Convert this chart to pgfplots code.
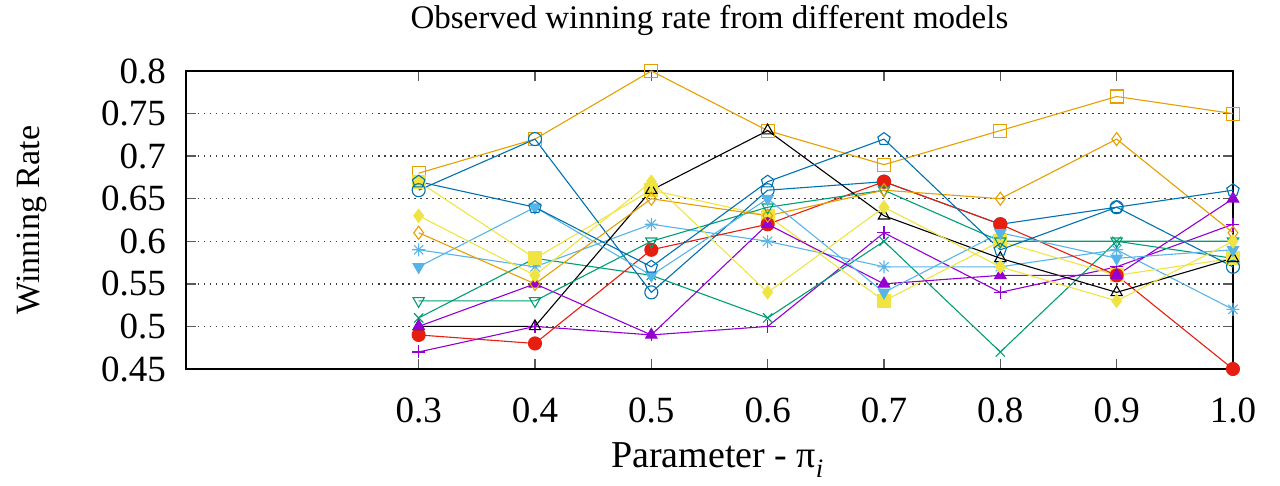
\documentclass[border=0pt]{standalone}
\usepackage{pgfplots}
\usepackage{pgfplotstable}
\pgfplotsset{compat=1.18}
\usepackage{fontspec}
\setmainfont{Liberation Serif}

% gnuplot default line colours
\definecolor{gpPurple}{HTML}{9400D3}
\definecolor{gpGreen}{HTML}{009E73}
\definecolor{gpSky}{HTML}{56B4E9}
\definecolor{gpOrange}{HTML}{E69F00}
\definecolor{gpYellow}{HTML}{F0E442}
\definecolor{gpBlue}{HTML}{0072B2}
\definecolor{gpRed}{HTML}{E51E10}

% eight-armed star (plus and cross)
\pgfdeclareplotmark{gpstar}{%
  \pgfpathmoveto{\pgfqpoint{-\pgfplotmarksize}{0pt}}%
  \pgfpathlineto{\pgfqpoint{\pgfplotmarksize}{0pt}}%
  \pgfpathmoveto{\pgfqpoint{0pt}{-\pgfplotmarksize}}%
  \pgfpathlineto{\pgfqpoint{0pt}{\pgfplotmarksize}}%
  \pgfpathmoveto{\pgfpointpolar{45}{\pgfplotmarksize}}%
  \pgfpathlineto{\pgfpointpolar{225}{\pgfplotmarksize}}%
  \pgfpathmoveto{\pgfpointpolar{135}{\pgfplotmarksize}}%
  \pgfpathlineto{\pgfpointpolar{315}{\pgfplotmarksize}}%
  \pgfusepathqstroke
}

\pgfplotstableread{
x    s1   s2   s3   s4   s5   s6   s7   s8   s9   s10  s11  s12  s13  s14
0.3  0.47 0.51 0.59 0.68 0.67 0.66 0.49 0.50 0.50 0.53 0.57 0.61 0.63 0.67
0.4  0.50 0.58 0.57 0.72 0.58 0.72 0.48 0.50 0.55 0.53 0.64 0.55 0.56 0.64
0.5  0.49 0.56 0.62 0.80 0.66 0.54 0.59 0.66 0.49 0.60 0.56 0.65 0.67 0.57
0.6  0.50 0.51 0.60 0.73 0.63 0.66 0.62 0.73 0.62 0.64 0.65 0.63 0.54 0.67
0.7  0.61 0.60 0.57 0.69 0.53 0.67 0.67 0.63 0.55 0.66 0.54 0.66 0.64 0.72
0.8  0.54 0.47 0.57 0.73 0.60 0.62 0.62 0.58 0.56 0.60 0.61 0.65 0.57 0.59
0.9  0.57 0.60 0.59 0.77 0.56 0.64 0.56 0.54 0.56 0.60 0.58 0.72 0.53 0.64
1.0  0.62 0.58 0.52 0.75 0.58 0.57 0.45 0.58 0.65 0.60 0.59 0.61 0.60 0.66
}\winrate

\pgfplotsset{
  gp/.style={line width=1.1pt, mark size=6.5pt, mark options={solid, line width=1.1pt}},
  gpdown/.style={gp, mark options={solid, line width=1.1pt, rotate=180}},
}

\begin{document}
\begin{tikzpicture}
\path[use as bounding box] (-186pt,-117pt) rectangle (1094pt,369pt);
\begin{axis}[
  scale only axis,
  width=1047pt, height=298pt,
  xmin=0.1, xmax=1.0, ymin=0.45, ymax=0.8,
  clip=false,
  xtick={0.3,0.4,0.5,0.6,0.7,0.8,0.9,1.0},
  xticklabels={0.3,0.4,0.5,0.6,0.7,0.8,0.9,1.0},
  ytick={0.45,0.5,0.55,0.6,0.65,0.7,0.75,0.8},
  yticklabels={0.45,0.5,0.55,0.6,0.65,0.7,0.75,0.8},
  tick align=inside,
  major tick length=10pt,
  tick style={line width=1.5pt, color=black!65},
  axis line style={line width=2.5pt, black},
  ymajorgrids,
  grid style={line width=1.5pt, black!75, dash pattern=on 1.5pt off 4.5pt},
  ticklabel style={font=\fontsize{37}{44}\selectfont},
  yticklabel style={anchor=east, inner sep=0pt, xshift=-20pt},
  xticklabel style={anchor=north, inner sep=0pt, yshift=-29pt},
  title={Observed winning rate from different models},
  title style={font=\fontsize{33}{38}\selectfont, at={(axis description cs:0.5,1)}, anchor=base, yshift=36pt},
  xlabel={Parameter - π\textsubscript{\textit{i}}},
  xlabel style={font=\fontsize{38}{45}\selectfont, at={(axis description cs:0.5,0)}, anchor=base, yshift=-99pt, xshift=8pt},
  ylabel={Winning Rate},
  ylabel style={font=\fontsize{34}{40}\selectfont, at={(axis description cs:-0.1404,0.5)}, anchor=base},
]
\addplot[gp, gpPurple, mark=+]          table[x=x, y=s1]  {\winrate};
\addplot[gp, gpGreen, mark=x]           table[x=x, y=s2]  {\winrate};
\addplot[gp, gpSky, mark=gpstar]        table[x=x, y=s3]  {\winrate};
\addplot[gp, gpOrange, mark=square]     table[x=x, y=s4]  {\winrate};
\addplot[gp, gpYellow, mark=square*]    table[x=x, y=s5]  {\winrate};
\addplot[gp, gpBlue, mark=o]            table[x=x, y=s6]  {\winrate};
\addplot[gp, gpRed, mark=*]             table[x=x, y=s7]  {\winrate};
\addplot[gp, black, mark=triangle]      table[x=x, y=s8]  {\winrate};
\addplot[gp, gpPurple, mark=triangle*]  table[x=x, y=s9]  {\winrate};
\addplot[gpdown, gpGreen, mark=triangle]  table[x=x, y=s10] {\winrate};
\addplot[gpdown, gpSky, mark=triangle*]   table[x=x, y=s11] {\winrate};
\addplot[gp, gpOrange, mark=diamond]    table[x=x, y=s12] {\winrate};
\addplot[gp, gpYellow, mark=diamond*]   table[x=x, y=s13] {\winrate};
\addplot[gp, gpBlue, mark=pentagon]     table[x=x, y=s14] {\winrate};
\end{axis}
\end{tikzpicture}
\end{document}
